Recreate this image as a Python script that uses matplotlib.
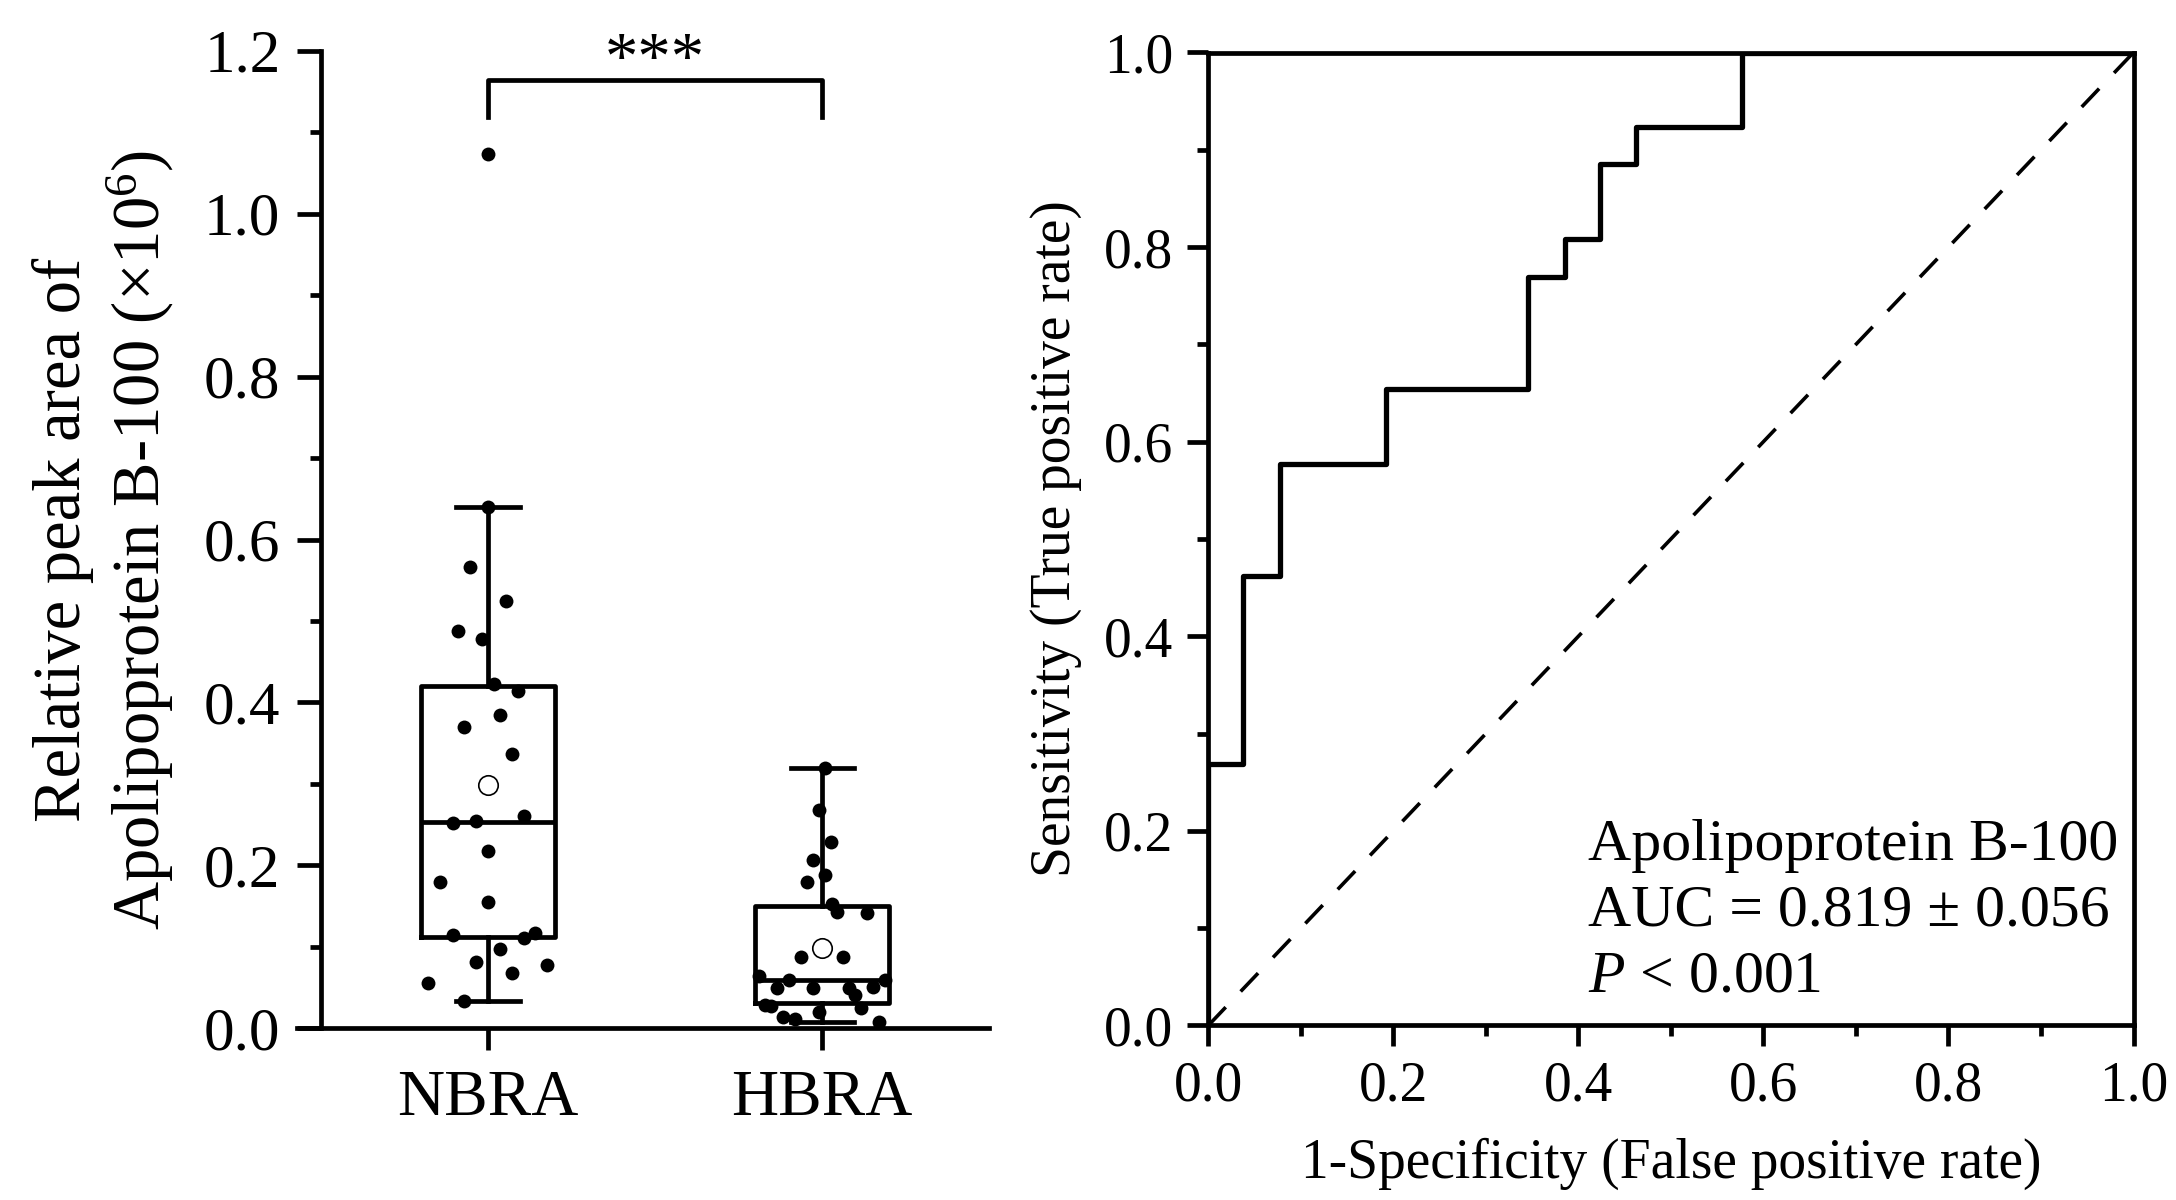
import numpy as np
import matplotlib
matplotlib.use("Agg")
import matplotlib.pyplot as plt
from matplotlib.ticker import MultipleLocator

plt.rcParams['font.family'] = ['Liberation Serif', 'DejaVu Serif']
plt.rcParams['mathtext.fontset'] = 'custom'
plt.rcParams['mathtext.rm'] = 'Liberation Serif'
plt.rcParams['mathtext.it'] = 'Liberation Serif:italic'

# box plot data (relative peak area, x10^6)
groups = ["NBRA", "HBRA"]
nbra = [1.073, 0.640, 0.566, 0.524, 0.488, 0.478, 0.423, 0.414, 0.385, 0.370,
        0.337, 0.252, 0.255, 0.260, 0.218, 0.180, 0.155, 0.114, 0.111, 0.117,
        0.097, 0.081, 0.078, 0.068, 0.055, 0.034]
hbra = [0.319, 0.2685, 0.229, 0.207, 0.188, 0.179, 0.152, 0.143, 0.142, 0.087,
        0.088, 0.064, 0.059, 0.0595, 0.049, 0.0496, 0.049, 0.051, 0.041, 0.028,
        0.027, 0.0197, 0.0246, 0.0144, 0.0115, 0.0078]
# horizontal scatter of the dots
nbra_jit = [0, 0, -0.054, 0.054, -0.089, -0.018, 0.019, 0.090, 0.036, -0.070,
            0.072, -0.105, -0.035, 0.107, 0, -0.142, 0, -0.105, 0.107, 0.142,
            0.036, -0.035, 0.178, 0.072, -0.178, -0.070]
hbra_jit = [0.009, -0.010, 0.027, -0.028, 0.008, -0.046, 0.028, 0.044, 0.134, -0.064,
            0.062, -0.189, -0.099, 0.187, -0.135, -0.028, 0.080, 0.151, 0.097, -0.171,
            -0.152, -0.010, 0.116, -0.117, -0.081, 0.169]
sig_label = "***"

# ROC curve
fpr = [0.0, 0.0, 0.038, 0.077, 0.192, 0.346, 0.385, 0.423, 0.462, 0.577, 1.0]
tpr = [0.0, 0.269, 0.462, 0.577, 0.654, 0.769, 0.808, 0.885, 0.923, 1.0, 1.0]
roc_text = ["Apolipoprotein B-100", "AUC = 0.819 \u00b1 0.056", "$P$ < 0.001"]

lw = 3.4
fig = plt.figure(figsize=(21.76, 12), dpi=100)

# ---- left: box plot ----
ax1 = fig.add_axes([0.14738, 0.14308, 0.30735, 0.81467])
pos = [1, 2]
lineprops = dict(color='black', linewidth=lw)
ax1.boxplot([nbra, hbra], positions=pos, widths=0.4, whis=1.5, showfliers=False,
            showmeans=True, capwidths=0.19,
            boxprops=lineprops, whiskerprops=lineprops, capprops=lineprops,
            medianprops=lineprops,
            meanprops=dict(marker='o', markerfacecolor='white', markeredgecolor='black',
                           markersize=14, markeredgewidth=1.2))
for p, vals, jit in zip(pos, [nbra, hbra], [nbra_jit, hbra_jit]):
    ax1.scatter(p + np.array(jit), vals, s=100, color='black', zorder=3, linewidths=0)

ax1.set_xlim(0.5, 2.5)
ax1.set_ylim(0, 1.2)
ax1.set_xticks(pos)
ax1.set_xticklabels(groups, fontsize=47)
ax1.yaxis.set_major_locator(MultipleLocator(0.2))
ax1.yaxis.set_minor_locator(MultipleLocator(0.1))
ax1.yaxis.set_major_formatter(matplotlib.ticker.FormatStrFormatter('%.1f'))
ax1.tick_params(axis='y', which='major', labelsize=44, length=17, width=lw, pad=12)
ax1.tick_params(axis='y', which='minor', length=8, width=lw)
ax1.tick_params(axis='x', which='major', length=16, width=lw, pad=14)
for s in ['top', 'right']:
    ax1.spines[s].set_visible(False)
for s in ['left', 'bottom']:
    ax1.spines[s].set_linewidth(lw)
ax1.spines['bottom'].set_bounds(0.5 - 24 / 334.4, 2.5)
ax1.set_ylabel("Relative peak area of\nApolipoprotein B-100 (\u00d710$^{6}$)",
               fontsize=48, labelpad=20)

# significance bracket
ax1.plot([1, 1, 2, 2], [1.119, 1.164, 1.164, 1.119], color='black', linewidth=lw)
ax1.text(1.5, 1.166, sig_label, ha='center', va='baseline', fontsize=48)

# ---- right: ROC ----
ax2 = fig.add_axes([0.55529, 0.14542, 0.42518, 0.81083])
ax2.step(fpr, tpr, where='post', color='black', linewidth=lw + 0.4)
ax2.plot([0, 1], [0, 1], color='black', linewidth=2.6, dashes=(7, 6))
ax2.set_xlim(0, 1)
ax2.set_ylim(0, 1)
for a in [ax2.xaxis, ax2.yaxis]:
    a.set_major_locator(MultipleLocator(0.2))
    a.set_minor_locator(MultipleLocator(0.1))
    a.set_major_formatter(matplotlib.ticker.FormatStrFormatter('%.1f'))
ax2.tick_params(which='major', labelsize=40, length=15, width=lw, pad=10)
ax2.tick_params(which='minor', length=8, width=lw)
for s in ax2.spines.values():
    s.set_linewidth(lw)
ax2.set_xlabel("1-Specificity (False positive rate)", fontsize=40, labelpad=18)
ax2.set_ylabel("Sensitivity (True positive rate)", fontsize=40, labelpad=16)
for t, y in zip(roc_text, [0.170, 0.103, 0.035]):
    ax2.text(0.41, y, t, ha='left', va='baseline', fontsize=43)

fig.savefig("out.png", dpi=100)
